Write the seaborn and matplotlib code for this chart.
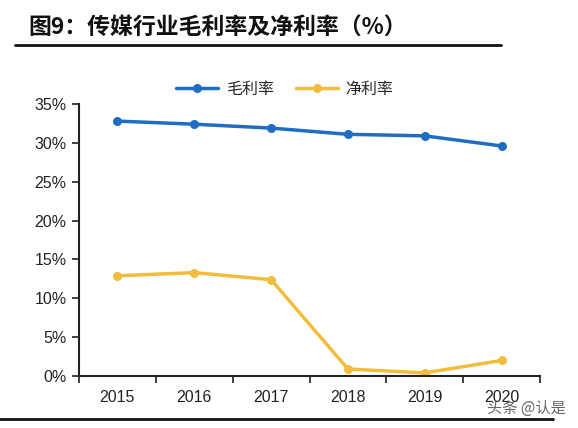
import matplotlib
matplotlib.use("Agg")
import matplotlib.pyplot as plt
import seaborn as sns
import pandas as pd
from matplotlib.ticker import PercentFormatter, FixedLocator
from matplotlib.lines import Line2D

years = ["2015", "2016", "2017", "2018", "2019", "2020"]
gross_margin = [32.8, 32.4, 31.9, 31.1, 30.9, 29.6]
net_margin = [12.9, 13.3, 12.4, 0.9, 0.4, 2.0]
series_names = ["毛利率", "净利率"]
title = "图9：传媒行业毛利率及净利率（%）"
watermark = "头条 @认是"

df = pd.DataFrame({
    "year": years * 2,
    "x": list(range(len(years))) * 2,
    "value": gross_margin + net_margin,
    "series": [series_names[0]] * len(years) + [series_names[1]] * len(years),
})

sns.set_theme(style="white")
plt.rcParams['font.family'] = ['Liberation Sans', 'Noto Sans CJK SC', 'DejaVu Sans']

colors = {"毛利率": "#1f6cc2", "净利率": "#f2bd3c"}

fig = plt.figure(figsize=(5.78, 4.28), dpi=100)
ax = fig.add_axes([79 / 578, 1 - 376 / 428, (540 - 79) / 578, (376 - 104) / 428])

sns.lineplot(data=df, x="x", y="value", hue="series", palette=colors,
             marker="o", markersize=6.5, markeredgewidth=0, linewidth=2.5,
             ax=ax, legend=False, sort=False)

ax.set_xlim(-0.5, len(years) - 0.5)
ax.set_ylim(0, 35)
ax.yaxis.set_major_locator(FixedLocator(range(0, 36, 5)))
ax.yaxis.set_major_formatter(PercentFormatter(decimals=0))
ax.xaxis.set_major_locator(FixedLocator([i - 0.5 for i in range(len(years) + 1)]))
ax.set_xticklabels([""] * (len(years) + 1))
for i, y in enumerate(years):
    ax.text(i, -2.75, y, ha="center", va="center", fontsize=11.5, color="#222222")

ax.set_xlabel("")
ax.set_ylabel("")
for s in ["top", "right"]:
    ax.spines[s].set_visible(False)
for s in ["left", "bottom"]:
    ax.spines[s].set_color("#222222")
    ax.spines[s].set_linewidth(1.5)
ax.tick_params(axis="y", which="major", direction="out", length=5, width=1.2,
               color="#222222", labelsize=11.5, labelcolor="#222222", left=True, pad=4)
ax.tick_params(axis="x", which="major", direction="out", length=5, width=1.2,
               color="#222222", bottom=True)
ax.set_facecolor("white")

handles = [Line2D([0], [0], color=colors[n], marker="o", markersize=6.5,
                  markeredgewidth=0, linewidth=2.5) for n in series_names]
fig.legend(handles, series_names, loc="center", bbox_to_anchor=(285 / 578, 1 - 89 / 428),
           ncol=2, frameon=False, handlelength=2.6, handletextpad=0.5, columnspacing=1.4,
           prop={"family": ["Noto Sans CJK SC"], "size": 11.5})

fig.text(28 / 578, 1 - 28 / 428, title, ha="left", va="center", fontsize=16.5,
         fontweight="heavy", family=["Noto Sans CJK SC"], color="#111111")
fig.add_artist(Line2D([15 / 578, 501 / 578], [1 - 45 / 428] * 2, color="#111111", linewidth=2))
fig.add_artist(Line2D([0, 553 / 578], [1 - 419 / 428] * 2, color="#111111", linewidth=2))
fig.text(566 / 578, 1 - 408 / 428, watermark, ha="right", va="center", fontsize=11,
         color="#555555", family=["Noto Sans CJK SC"], alpha=0.9)

fig.savefig("out.png", dpi=100, facecolor="white")
